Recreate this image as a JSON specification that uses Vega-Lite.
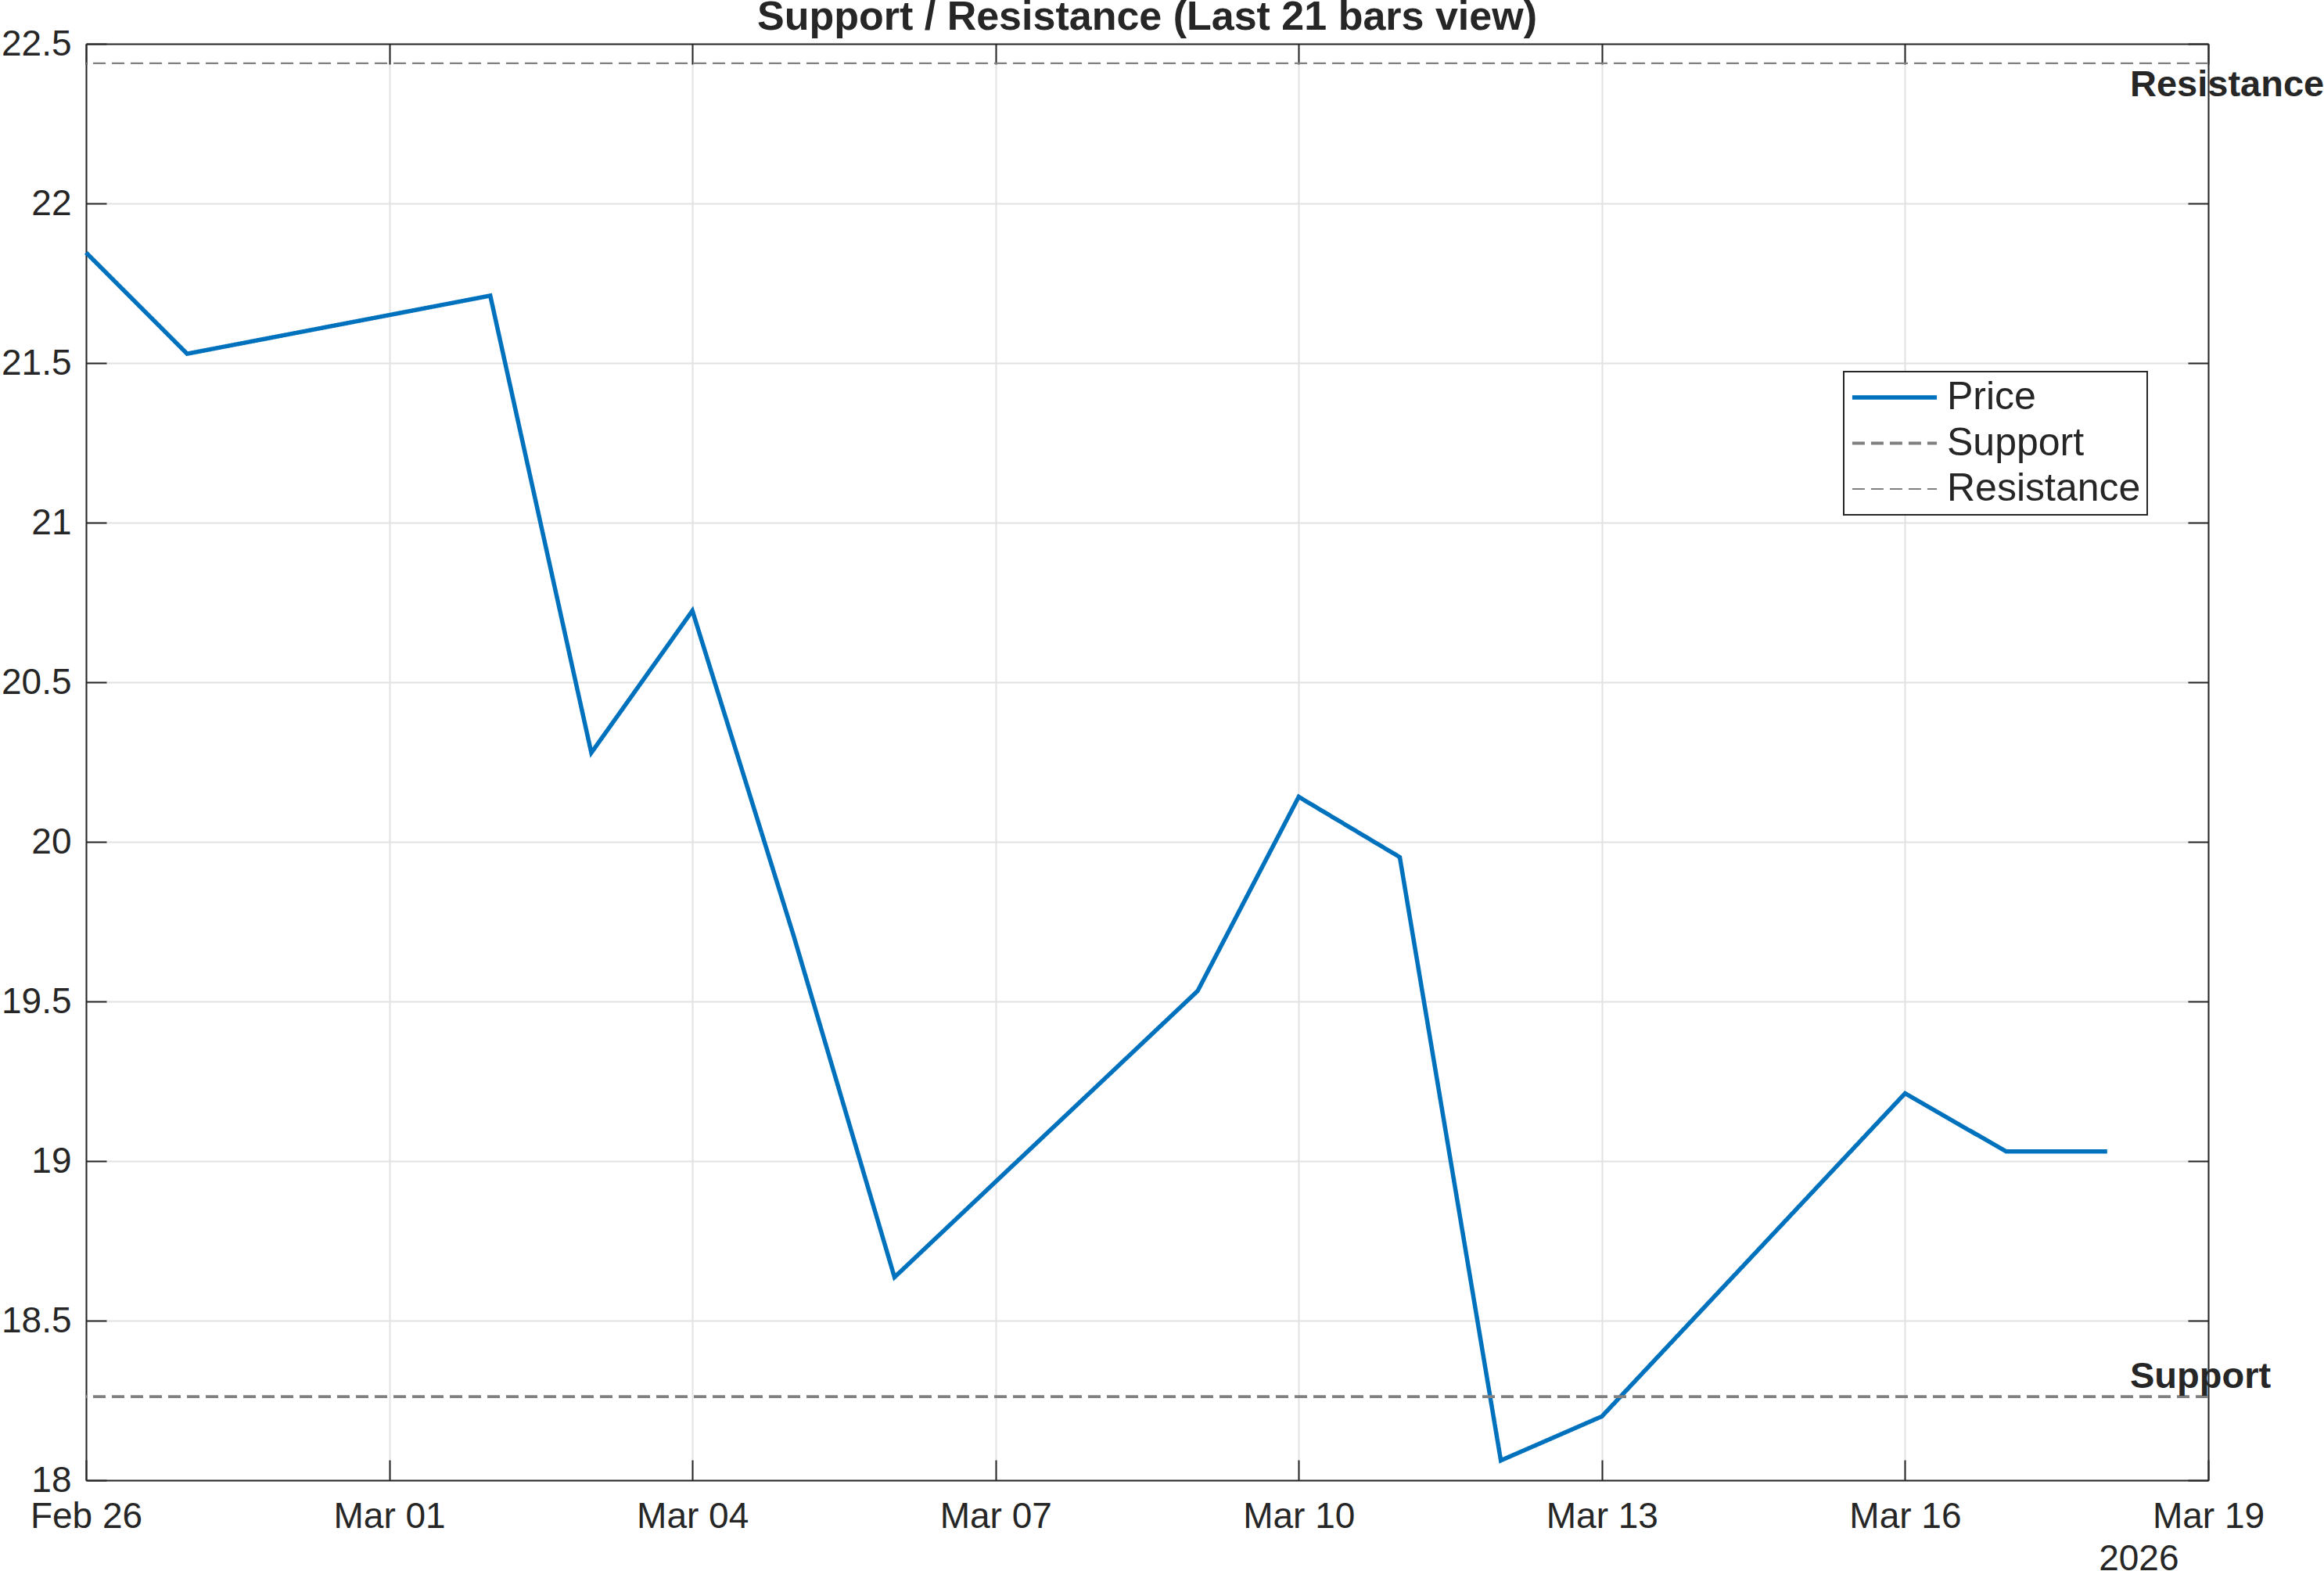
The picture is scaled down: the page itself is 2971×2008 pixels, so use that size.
{
  "$schema": "https://vega.github.io/schema/vega-lite/v6.json",
  "autosize": "none",
  "width": 2713,
  "height": 1836,
  "padding": {"left": 110, "top": 56, "right": 148, "bottom": 116},
  "background": "white",
  "title": {
    "text": "Support / Resistance (Last 21 bars view)",
    "font": "Liberation Sans",
    "fontSize": 52,
    "fontWeight": "bold",
    "color": "#262626",
    "anchor": "middle",
    "frame": "group",
    "baseline": "alphabetic",
    "offset": -57
  },
  "datasets": {
    "prices": [
      {"date": "2026-02-26", "price": 21.846},
      {"date": "2026-02-27", "price": 21.529},
      {"date": "2026-03-02", "price": 21.711},
      {"date": "2026-03-03", "price": 20.279},
      {"date": "2026-03-04", "price": 20.724},
      {"date": "2026-03-05", "price": 19.708},
      {"date": "2026-03-06", "price": 18.636},
      {"date": "2026-03-09", "price": 19.533},
      {"date": "2026-03-10", "price": 20.141},
      {"date": "2026-03-11", "price": 19.952},
      {"date": "2026-03-12", "price": 18.062},
      {"date": "2026-03-13", "price": 18.2},
      {"date": "2026-03-16", "price": 19.212},
      {"date": "2026-03-17", "price": 19.03},
      {"date": "2026-03-18", "price": 19.03}
    ],
    "levels": [
      {"level": "Support", "value": 18.262},
      {"level": "Resistance", "value": 22.439}
    ]
  },
  "layer": [
    {
      "data": {"name": "prices"},
      "mark": {"type": "line", "strokeJoin": "miter"},
      "encoding": {
        "x": {
          "field": "date",
          "type": "temporal",
          "title": "2026",
          "scale": {
            "type": "utc",
            "domain": [
              {"year": 2026, "month": 2, "date": 26, "utc": true},
              {"year": 2026, "month": 3, "date": 19, "utc": true}
            ]
          },
          "axis": {
            "orient": "bottom",
            "format": "%b %d",
            "values": [
              {"year": 2026, "month": 2, "date": 26, "utc": true},
              {"year": 2026, "month": 3, "date": 1, "utc": true},
              {"year": 2026, "month": 3, "date": 4, "utc": true},
              {"year": 2026, "month": 3, "date": 7, "utc": true},
              {"year": 2026, "month": 3, "date": 10, "utc": true},
              {"year": 2026, "month": 3, "date": 13, "utc": true},
              {"year": 2026, "month": 3, "date": 16, "utc": true},
              {"year": 2026, "month": 3, "date": 19, "utc": true}
            ],
            "grid": true,
            "tickSize": -26,
            "labelPadding": 50,
            "labelBaseline": "top",
            "labelFlush": false,
            "labelOverlap": false,
            "titleFontWeight": "normal",
            "titleFontSize": 46,
            "titleAlign": "right",
            "titleBaseline": "alphabetic",
            "titleAnchor": "start",
            "titleX": 2675,
            "titleY": 114
          }
        },
        "y": {
          "field": "price",
          "type": "quantitative",
          "scale": {"domain": [18, 22.5], "nice": false, "zero": false},
          "axis": {
            "orient": "left",
            "title": null,
            "values": [18, 18.5, 19, 19.5, 20, 20.5, 21, 21.5, 22, 22.5],
            "format": "~g",
            "grid": true,
            "tickSize": -26,
            "labelPadding": 45,
            "labelFlush": false,
            "labelOverlap": false
          }
        },
        "color": {
          "datum": "Price",
          "type": "nominal",
          "title": null,
          "scale": {"domain": ["Price", "Support", "Resistance"], "range": ["#0072BD", "#808080", "#808080"]}
        },
        "strokeDash": {
          "datum": "Price",
          "type": "nominal",
          "title": null,
          "scale": {"domain": ["Price", "Support", "Resistance"], "range": [[1, 0], [16, 8], [16, 8]]}
        },
        "strokeWidth": {
          "datum": "Price",
          "type": "ordinal",
          "title": null,
          "scale": {"domain": ["Price", "Support", "Resistance"], "range": [5.5, 2.2, 2.2]}
        }
      }
    },
    {
      "data": {"name": "levels"},
      "mark": {"type": "rule"},
      "encoding": {
        "y": {"field": "value", "type": "quantitative", "axis": null},
        "color": {
          "field": "level",
          "type": "nominal",
          "title": null,
          "scale": {"domain": ["Price", "Support", "Resistance"], "range": ["#0072BD", "#808080", "#808080"]}
        },
        "strokeDash": {
          "field": "level",
          "type": "nominal",
          "title": null,
          "scale": {"domain": ["Price", "Support", "Resistance"], "range": [[1, 0], [16, 8], [16, 8]]}
        },
        "strokeWidth": {
          "field": "level",
          "type": "ordinal",
          "title": null,
          "scale": {"domain": ["Price", "Support", "Resistance"], "range": [5.5, 2.2, 2.2]}
        }
      }
    },
    {
      "data": {"name": "levels"},
      "transform": [{"filter": "datum.level === 'Support'"}],
      "mark": {
        "type": "text",
        "align": "left",
        "baseline": "alphabetic",
        "dy": -11,
        "font": "Liberation Sans",
        "fontSize": 47,
        "fontWeight": "bold",
        "color": "#262626"
      },
      "encoding": {
        "x": {"datum": {"year": 2026, "month": 3, "date": 18, "hours": 5, "minutes": 25, "utc": true}, "type": "temporal", "axis": null},
        "y": {"field": "value", "type": "quantitative", "axis": null},
        "text": {"field": "level"}
      }
    },
    {
      "data": {"name": "levels"},
      "transform": [{"filter": "datum.level === 'Resistance'"}],
      "mark": {
        "type": "text",
        "align": "left",
        "baseline": "alphabetic",
        "dy": 42,
        "font": "Liberation Sans",
        "fontSize": 47,
        "fontWeight": "bold",
        "color": "#262626"
      },
      "encoding": {
        "x": {"datum": {"year": 2026, "month": 3, "date": 18, "hours": 5, "minutes": 25, "utc": true}, "type": "temporal", "axis": null},
        "y": {"field": "value", "type": "quantitative", "axis": null},
        "text": {"field": "level"}
      }
    },
    {
      "data": {"name": "prices"},
      "mark": {"type": "line", "opacity": 0},
      "encoding": {
        "x": {
          "field": "date",
          "type": "temporal",
          "axis": {
            "orient": "top",
            "title": null,
            "labels": false,
            "grid": false,
            "tickSize": -26,
            "values": [
              {"year": 2026, "month": 2, "date": 26, "utc": true},
              {"year": 2026, "month": 3, "date": 1, "utc": true},
              {"year": 2026, "month": 3, "date": 4, "utc": true},
              {"year": 2026, "month": 3, "date": 7, "utc": true},
              {"year": 2026, "month": 3, "date": 10, "utc": true},
              {"year": 2026, "month": 3, "date": 13, "utc": true},
              {"year": 2026, "month": 3, "date": 16, "utc": true},
              {"year": 2026, "month": 3, "date": 19, "utc": true}
            ]
          }
        },
        "y": {
          "field": "price",
          "type": "quantitative",
          "axis": {
            "orient": "right",
            "title": null,
            "labels": false,
            "grid": false,
            "tickSize": -26,
            "values": [18, 18.5, 19, 19.5, 20, 20.5, 21, 21.5, 22, 22.5]
          }
        }
      }
    }
  ],
  "resolve": {"axis": {"x": "independent", "y": "independent"}},
  "config": {
    "font": "Liberation Sans",
    "view": {"stroke": null},
    "axis": {
      "domainColor": "#262626",
      "domainWidth": 2,
      "tickColor": "#262626",
      "tickWidth": 2,
      "gridColor": "#e2e2e2",
      "gridWidth": 2,
      "labelFont": "Liberation Sans",
      "labelFontSize": 46,
      "labelColor": "#262626",
      "titleFont": "Liberation Sans",
      "titleColor": "#262626"
    },
    "legend": {
      "orient": "none",
      "legendX": 2247,
      "legendY": 419,
      "direction": "vertical",
      "fillColor": "white",
      "strokeColor": "#262626",
      "strokeWidth": 2,
      "padding": 8,
      "cornerRadius": 0,
      "labelFont": "Liberation Sans",
      "labelFontSize": 50,
      "labelColor": "#262626",
      "labelLimit": 600,
      "labelOffset": 10,
      "rowPadding": 8.5,
      "clipHeight": 50,
      "symbolType": "M-1,0H1",
      "symbolSize": 11700
    }
  }
}
